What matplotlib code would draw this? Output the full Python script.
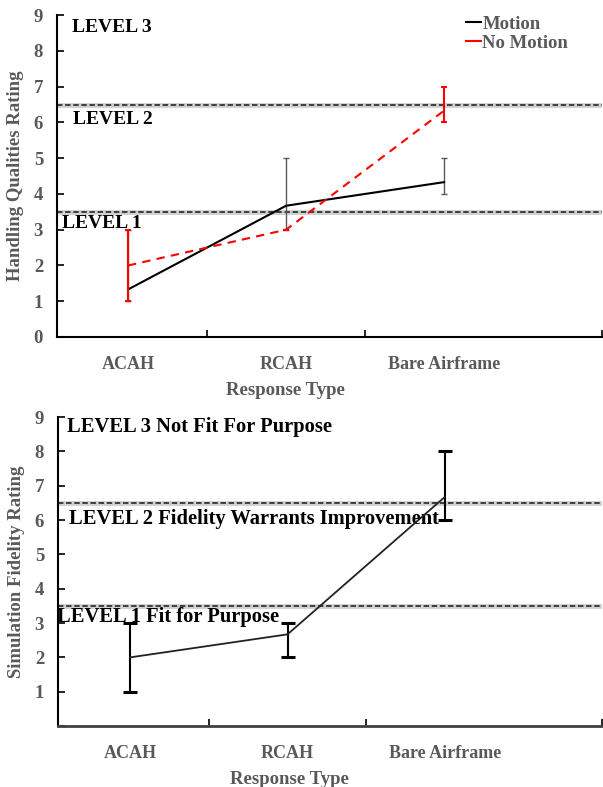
import numpy as np
import matplotlib
matplotlib.use("Agg")
import matplotlib.pyplot as plt
from matplotlib.lines import Line2D

plt.rcParams["font.family"] = ["Liberation Serif", "DejaVu Serif"]
plt.rcParams["font.weight"] = "bold"
plt.rcParams["axes.labelweight"] = "bold"

response_types = ["ACAH", "RCAH", "Bare Airframe"]

# handling qualities ratings (mean, min, max)
hqr_motion = [1.33, 3.67, 4.33]
hqr_motion_lo = [1, 3, 4]
hqr_motion_hi = [3, 5, 5]
hqr_no_motion = [2, 3, 6.33]
hqr_no_motion_lo = [1, 3, 6]
hqr_no_motion_hi = [3, 3, 7]

# simulation fidelity ratings (mean, min, max)
sfr = [2, 2.67, 6.67]
sfr_lo = [1, 2, 6]
sfr_hi = [3, 3, 8]

level_bounds = [3.5, 6.5]
hqr_levels = ["LEVEL 1", "LEVEL 2", "LEVEL 3"]
sfr_levels = ["LEVEL 1 Fit for Purpose", "LEVEL 2 Fidelity Warrants Improvement",
              "LEVEL 3 Not Fit For Purpose"]

GREY = "#595959"


def yerr(mean, lo, hi):
    mean = np.array(mean)
    return [mean - np.array(lo), np.array(hi) - mean]


def style_axes(ax, xmin, yticks):
    x = np.arange(len(response_types))
    ax.set_xlim(xmin, 3.0)
    ax.set_ylim(0, 9)
    ax.set_yticks(range(10))
    ax.set_yticklabels([str(v) if v in yticks else "" for v in range(10)])
    ax.set_xticks(x)
    ax.set_xticklabels(response_types)
    ax.set_xticks([0.5, 1.5, 3.0], minor=True)
    ax.tick_params(axis="x", which="major", length=0, pad=14, labelsize=13, labelcolor=GREY)
    ax.tick_params(axis="x", which="minor", direction="in", length=5, width=1.2)
    ax.tick_params(axis="y", direction="in", length=5, width=1.2, pad=10, labelsize=13.5,
                   labelcolor=GREY)
    for lbl in ax.get_xticklabels() + ax.get_yticklabels():
        lbl.set_fontweight("bold")
    for side in ["top", "right"]:
        ax.spines[side].set_visible(False)
    ax.spines["left"].set_linewidth(1.5)
    ax.spines["bottom"].set_linewidth(1.5)
    for b in level_bounds:
        ax.axhline(b, color="#d0d0d0", lw=3.5, zorder=1)
        ax.axhline(b, color="#333333", lw=1.3, ls=(0, (3, 1.5)), zorder=2)


fig = plt.figure(figsize=(6.03, 7.87), dpi=100)
x = np.arange(len(response_types))

# handling qualities
ax1 = fig.add_axes([0.0945, 0.5718, 0.904, 0.409])
style_axes(ax1, -0.45, range(10))
ax1.errorbar(x, hqr_motion, yerr=yerr(hqr_motion, hqr_motion_lo, hqr_motion_hi),
             color="black", ecolor=GREY, elinewidth=1, capsize=2.5, capthick=1,
             lw=1.5, zorder=3)
ax1.errorbar(x, hqr_no_motion, yerr=yerr(hqr_no_motion, hqr_no_motion_lo, hqr_no_motion_hi),
             color="red", ecolor="red", elinewidth=1.5, capsize=2.5, capthick=1.5,
             lw=1.5, ls=(0, (4, 3)), zorder=4)
ax1.text(-0.354, 8.66, hqr_levels[2], fontsize=14, va="center")
ax1.text(-0.348, 6.09, hqr_levels[1], fontsize=14, va="center")
ax1.text(-0.418, 3.18, hqr_levels[0], fontsize=14, va="center")
ax1.set_ylabel("Handling Qualities Rating", fontsize=13.5, color=GREY)
ax1.yaxis.set_label_coords(-0.06, 0.5)
ax1.set_xlabel("Response Type", fontsize=13.5, color=GREY)
ax1.xaxis.set_label_coords(0.42, -0.14)
handles = [Line2D([], [], color="black", lw=1.5), Line2D([], [], color="red", lw=1.5)]
leg = ax1.legend(handles, ["Motion", "No Motion"], loc="upper left",
                 bbox_to_anchor=(0.72, 1.05), frameon=False,
                 handlelength=0.8, handletextpad=0.05, labelspacing=0.1, fontsize=13.5)
for t in leg.get_texts():
    t.set_color(GREY)

# simulation fidelity
ax2 = fig.add_axes([0.0962, 0.0775, 0.902, 0.3926])
style_axes(ax2, -0.46, range(1, 10))
ax2.spines["bottom"].set_color("#404040")
ax2.spines["bottom"].set_linewidth(2)
ax2.errorbar(x, sfr, yerr=yerr(sfr, sfr_lo, sfr_hi), color="#222222", ecolor="black",
             elinewidth=1.5, capsize=5, capthick=2.2, lw=1.3, zorder=3)
ax2.text(-0.40, 8.72, sfr_levels[2], fontsize=14.8, va="center")
ax2.text(-0.39, 6.03, sfr_levels[1], fontsize=14.8, va="center")
ax2.text(-0.465, 3.18, sfr_levels[0], fontsize=14.8, va="center")
ax2.set_ylabel("Simulation Fidelity Rating", fontsize=13.5, color=GREY)
ax2.yaxis.set_label_coords(-0.06, 0.5)
ax2.set_xlabel("Response Type", fontsize=13.5, color=GREY)
ax2.xaxis.set_label_coords(0.425, -0.145)

fig.savefig("out.png", dpi=100)
